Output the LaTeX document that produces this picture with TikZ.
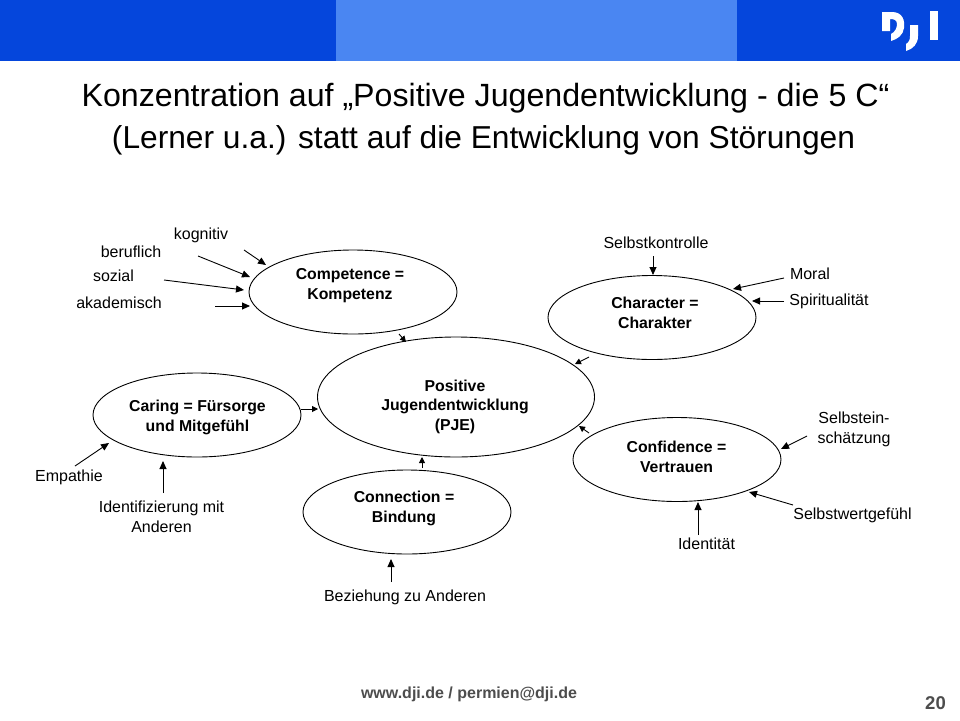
\documentclass[tikz,border=0pt]{standalone}
\usepackage{fontspec}
\setmainfont{Liberation Sans}
\usetikzlibrary{arrows.meta}
\definecolor{djiblue}{HTML}{0546DC}
\definecolor{djilight}{HTML}{4A86F2}
\definecolor{footgray}{HTML}{4D4D4D}
\tikzset{
  bub/.style={draw=black,line width=0.9pt,fill=white},
  head/.style={font=\fontsize{15.8}{19.3}\selectfont\bfseries,align=center,inner sep=0pt,anchor=base},
  lab/.style={font=\fontsize{16}{19.3}\selectfont,align=center,inner sep=0pt,anchor=base},
  ttl/.style={inner sep=0pt,anchor=base},
  arr/.style={draw=black,line width=0.9pt,-{Triangle[length=8pt,width=7pt]}},
  arrs/.style={draw=black,line width=0.9pt,-{Triangle[length=6pt,width=6pt]}},
}
\begin{document}
\begin{tikzpicture}[x=1pt,y=-1pt]
\useasboundingbox (0,0) rectangle (960,720);
\fill[white] (0,0) rectangle (960,720);
\fill[djiblue] (0,0) rectangle (336,61);
\fill[djilight] (336,0) rectangle (737,61);
\fill[djiblue] (737,0) rectangle (960,61);
% logo
\fill[white] (882,12) -- (892,12) .. controls (903,12) and (905,21) .. (904,28) .. controls (903,35) and (898,39) .. (891,41) -- (891,34) .. controls (895,32) and (897,28) .. (897,24) .. controls (897,20) and (894,19) .. (890,19) -- (890,31) -- (882,31) -- cycle;
\fill[white] (910,25) -- (918,25) -- (918,36) .. controls (918,44) and (913,49) .. (906,51) -- (906,44) .. controls (909,42) and (910,40) .. (910,36) -- cycle;
\fill[white] (930,11) -- (938,11) -- (938,40) -- (930,40) -- cycle;
% title
\node[ttl,font=\fontsize{32.15}{42}\selectfont] (t1) at (485.5,106) {Konzentration auf „Positive Jugendentwicklung - die 5 C“};
\node[ttl,font=\fontsize{31.7}{42}\selectfont] (t2) at (483.5,148) {(Lerner u.a.) statt auf die Entwicklung von Störungen};
% ellipses
\coordinate (cCom) at (353,292);
\coordinate (cCha) at (652,317.5);
\coordinate (cPJE) at (456,397);
\coordinate (cCar) at (197,415);
\coordinate (cCon) at (407,512);
\coordinate (cCnf) at (677,459.5);
\draw[bub] (cPJE) ellipse [x radius=138.5,y radius=60];
\draw[bub] (cCom) ellipse [x radius=104,y radius=42];
\draw[bub] (cCha) ellipse [x radius=104,y radius=42];
\draw[bub] (cCar) ellipse [x radius=104,y radius=42];
\draw[bub] (cCon) ellipse [x radius=104,y radius=42];
\draw[bub] (cCnf) ellipse [x radius=104,y radius=42];
\node[head] (nCom) at (350,299) {Competence =\\Kompetenz};
\node[head] (nCha) at (655,328) {Character =\\Charakter};
\node[head] (nPJE) at (455,430) {Positive\\Jugendentwicklung\\(PJE)};
\node[head] (nCar) at (197.5,431) {Caring = Fürsorge\\und Mitgefühl};
\node[head] (nCon) at (404,522) {Connection =\\Bindung};
\node[head] (nCnf) at (676.5,472) {Confidence =\\Vertrauen};
% labels
\node[lab] (lkog) at (201,239) {kognitiv};
\node[lab] (lber) at (131,257) {beruflich};
\node[lab] (lsoz) at (113.5,281) {sozial};
\node[lab] (laka) at (119,308.5) {akademisch};
\node[lab] (lemp) at (69,481) {Empathie};
\node[lab] (lide) at (161.5,532) {Identifizierung mit\\Anderen};
\node[lab] (lbez) at (405,601) {Beziehung zu Anderen};
\node[lab] (lsk) at (656,248) {Selbstkontrolle};
\node[lab] (lmor) at (810,279) {Moral};
\node[lab] (lspi) at (829,305) {Spiritualität};
\node[lab] (lsei) at (854,443) {Selbstein-\\schätzung};
\node[lab] (lswg) at (852.5,519) {Selbstwertgefühl};
\node[lab] (lidt) at (706.5,549) {Identität};
% arrow ends
\foreach \n/\x/\y in {a1/244/250,a2/266/265,b1/198/256,b2/250/277,c1/164/280,c2/244/290,d1/215/306,d2/250/306,
 e1/399/334,e2/406/342,f1/301/409,f2/318/409,g1/75/466,g2/109/443,h1/163/493,h2/163/461,
 i1/422/468,i2/422/457,j1/391/582,j2/391/559,k1/653/256,k2/653/275,l1/784/278,l2/733/289,
 m1/784/301,m2/752/301,n1/589/357,n2/575/364,o1/589/433,o2/579/426,p1/807/436,p2/781/449,
 q1/793/505,q2/749/492,r1/698/535,r2/698/502}
 {\coordinate (\n) at (\x,\y);}
\draw[arr] (a1) -- (a2);
\draw[arr] (b1) -- (b2);
\draw[arr] (c1) -- (c2);
\draw[arr] (d1) -- (d2);
\draw[arrs] (e1) -- (e2);
\draw[arrs] (f1) -- (f2);
\draw[arr] (g1) -- (g2);
\draw[arr] (h1) -- (h2);
\draw[arrs] (i1) -- (i2);
\draw[arr] (j1) -- (j2);
\draw[arr] (k1) -- (k2);
\draw[arr] (l1) -- (l2);
\draw[arr] (m1) -- (m2);
\draw[arrs] (n1) -- (n2);
\draw[arrs] (o1) -- (o2);
\draw[arr] (p1) -- (p2);
\draw[arr] (q1) -- (q2);
\draw[arr] (r1) -- (r2);
% footer
\node[font=\fontsize{16}{18}\selectfont\bfseries,text=footgray,inner sep=0pt,anchor=base] (foot) at (469,698) {www.dji.de / permien@dji.de};
\node[font=\fontsize{18.5}{20}\selectfont\bfseries,text=footgray,inner sep=0pt,anchor=base] (pg) at (935.5,709) {20};
\end{tikzpicture}
\end{document}
